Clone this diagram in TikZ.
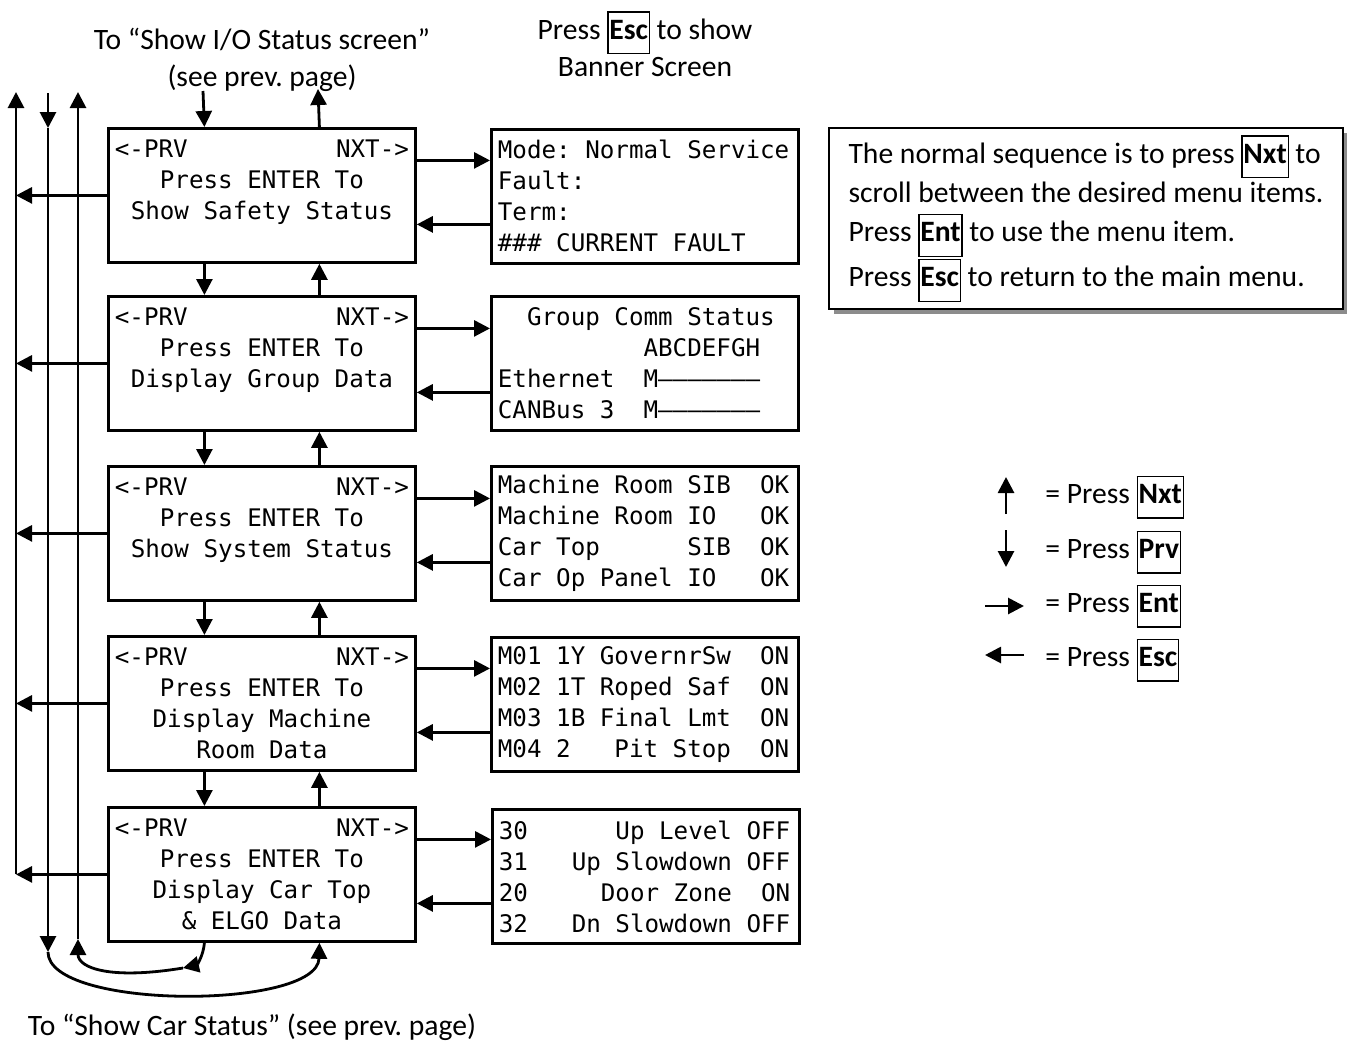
\documentclass[tikz,border=0pt]{standalone}
\usepackage{fontspec}
\setmainfont{Carlito}
\setmonofont{DejaVu Sans Mono}
\usetikzlibrary{arrows.meta,shadows}

\newcommand{\keycap}[1]{{\setlength{\fboxsep}{0.4pt}\setlength{\fboxrule}{0.6pt}\fbox{\rule[-6.5pt]{0pt}{19.5pt}\bfseries #1}}}

\begin{document}
\frenchspacing
\begin{tikzpicture}[x=0.5pt,y=-0.5pt,
  menu/.style={draw, line width=1.4pt, anchor=north west, align=flush center, text width=147pt, inner xsep=3.25pt, inner ysep=0pt, minimum width=153.5pt, minimum height=67pt, font=\ttfamily\fontsize{12.1pt}{15.5pt}\selectfont\frenchspacing},
  lcd/.style={menu, align=flush left},
  note/.style={draw, fill=white, line width=1pt, anchor=north west, align=left, minimum width=257pt, minimum height=90.5pt, font=\fontsize{14.8pt}{19.6pt}\selectfont},
  lbl/.style={align=center, font=\fontsize{14.8pt}{18.5pt}\selectfont},
  arr/.style={-{Triangle[length=8pt,width=8pt]}, line width=1.4pt}]
\useasboundingbox (0,0) rectangle (1347,1044);
\node[lbl] (ioLbl) at (262,60) {To “Show I/O Status screen”\\ (see prev. page)};
\node[lbl] (escLbl) at (645,44) {Press \keycap{Esc} to show\\ Banner Screen};
\node[lbl] (carLbl) at (252,1027) {To “Show Car Status” (see prev. page)};
\node[menu] (m1) at (107,127) {\makebox[\linewidth]{<-PRV\hfill NXT->}\\ Press ENTER To\\ Show Safety Status\\ \mbox{}};
\node[menu] (m2) at (107,295) {\makebox[\linewidth]{<-PRV\hfill NXT->}\\ Press ENTER To\\ Display Group Data\\ \mbox{}};
\node[menu] (m3) at (107,465) {\makebox[\linewidth]{<-PRV\hfill NXT->}\\ Press ENTER To\\ Show System Status\\ \mbox{}};
\node[menu] (m4) at (107,635) {\makebox[\linewidth]{<-PRV\hfill NXT->}\\ Press ENTER To\\ Display Machine\\ Room Data};
\node[menu] (m5) at (107,806) {\makebox[\linewidth]{<-PRV\hfill NXT->}\\ Press ENTER To\\ Display Car Top\\ \& ELGO Data};
\node[lcd] (d1) at (490,128) {Mode: Normal Service\\ Fault:\\ Term:\\ \#\#\# CURRENT FAULT};
\node[lcd] (d2) at (490,295) {\mbox{}~~Group Comm Status\\ \mbox{}~~~~~~~~~~ABCDEFGH\\ Ethernet~~M–––––––\\ CANBus~3~~M–––––––};
\node[lcd] (d3) at (490,465) {Machine Room SIB~~OK\\ Machine Room IO~~~OK\\ Car Top~~~~~~SIB~~OK\\ Car Op Panel IO~~~OK};
\node[lcd] (d4) at (490,636) {M01 1Y GovernrSw~~ON\\ M02 1T Roped Saf~~ON\\ M03 1B Final Lmt~~ON\\ M04 2~~~Pit Stop~~ON};
\node[lcd] (d5) at (491,808) {30~~~~~~Up Level OFF\\ 31~~~Up Slowdown OFF\\ 20~~~~~Door Zone~~ON\\ 32~~~Dn Slowdown OFF};
\node[note, drop shadow={shadow xshift=2.5pt, shadow yshift=-2.5pt, fill=black!45, opacity=1}] (info) at (828,127) {The normal sequence is to press \keycap{Nxt} to\\ scroll between the desired menu items.\\ Press \keycap{Ent} to use the menu item.\\ Press \keycap{Esc} to return to the main menu.};
\node[lbl, anchor=west, inner xsep=0pt] (lgNxt) at (1045,497) {= Press \keycap{Nxt}};
\node[lbl, anchor=west, inner xsep=0pt] (lgPrv) at (1045,552) {= Press \keycap{Prv}};
\node[lbl, anchor=west, inner xsep=0pt] (lgEnt) at (1045,606) {= Press \keycap{Ent}};
\node[lbl, anchor=west, inner xsep=0pt] (lgEsc) at (1045,660) {= Press \keycap{Esc}};
\coordinate (escTop) at (16,92);
\coordinate (prvTop) at (48,93);
\coordinate (prvIn) at (48,128);
\coordinate (prvBot) at (48,952);
\coordinate (nxtTop) at (78,92);
\coordinate (nxtBot) at (78,939);
\coordinate (loopIn) at (183,968);
\coordinate (ioPrv) at (203,91);
\coordinate (ioNxt) at (318,89);
\draw[arr] (ioPrv) -- ([xshift=-28.75pt]m1.north);
\draw[arr] ([xshift=28.75pt]m1.north) -- (ioNxt);
\draw[arr] ([xshift=-28.75pt]m1.south) -- ([xshift=-28.75pt]m2.north);
\draw[arr] ([xshift=28.75pt]m2.north) -- ([xshift=28.75pt]m1.south);
\draw[arr] ([xshift=-28.75pt]m2.south) -- ([xshift=-28.75pt]m3.north);
\draw[arr] ([xshift=28.75pt]m3.north) -- ([xshift=28.75pt]m2.south);
\draw[arr] ([xshift=-28.75pt]m3.south) -- ([xshift=-28.75pt]m4.north);
\draw[arr] ([xshift=28.75pt]m4.north) -- ([xshift=28.75pt]m3.south);
\draw[arr] ([xshift=-28.75pt]m4.south) -- ([xshift=-28.75pt]m5.north);
\draw[arr] ([xshift=28.75pt]m5.north) -- ([xshift=28.75pt]m4.south);
\draw[arr] ([yshift=17.5pt]m1.east) -- ([yshift=17.5pt]m1.east -| d1.west);
\draw[arr] ([yshift=-14.5pt]m1.east -| d1.west) -- ([yshift=-14.5pt]m1.east);
\draw[arr] ([yshift=17.5pt]m2.east) -- ([yshift=17.5pt]m2.east -| d2.west);
\draw[arr] ([yshift=-14.5pt]m2.east -| d2.west) -- ([yshift=-14.5pt]m2.east);
\draw[arr] ([yshift=17.5pt]m3.east) -- ([yshift=17.5pt]m3.east -| d3.west);
\draw[arr] ([yshift=-14.5pt]m3.east -| d3.west) -- ([yshift=-14.5pt]m3.east);
\draw[arr] ([yshift=17.5pt]m4.east) -- ([yshift=17.5pt]m4.east -| d4.west);
\draw[arr] ([yshift=-14.5pt]m4.east -| d4.west) -- ([yshift=-14.5pt]m4.east);
\draw[arr] ([yshift=17.5pt]m5.east) -- ([yshift=17.5pt]m5.east -| d5.west);
\draw[arr] ([yshift=-14.5pt]m5.east -| d5.west) -- ([yshift=-14.5pt]m5.east);
\draw[arr] (m1.west) -- (m1.west -| escTop);
\draw[arr] (m2.west) -- (m2.west -| escTop);
\draw[arr] (m3.west) -- (m3.west -| escTop);
\draw[arr] (m4.west) -- (m4.west -| escTop);
\draw[arr] (m5.west) -- (m5.west -| escTop);
\draw[arr] (m5.west -| escTop) -- (escTop);
\draw[arr] (prvTop) -- (prvIn);
\draw[arr] (prvIn) -- (prvBot);
\draw[arr] (prvBot) .. controls (48,1010) and (318,1010) .. ([xshift=28.75pt]m5.south);
\draw[arr] ([xshift=-28.75pt]m5.south) .. controls (203,958) and (196,965) .. (loopIn);
\draw[arr] (loopIn) .. controls (110,980) and (78,968) .. (nxtBot);
\draw[arr] (nxtBot) -- (nxtTop);
\draw[arr] (1006,514) coordinate (lgUpA) -- (1006,477) coordinate (lgUpB);
\draw[arr] (1006,530) coordinate (lgDnA) -- (1006,567) coordinate (lgDnB);
\draw[arr] (985,606) coordinate (lgEntA) -- (1024,606) coordinate (lgEntB);
\draw[arr] (1024,655) coordinate (lgEscA) -- (985,655) coordinate (lgEscB);
\end{tikzpicture}
\end{document}
